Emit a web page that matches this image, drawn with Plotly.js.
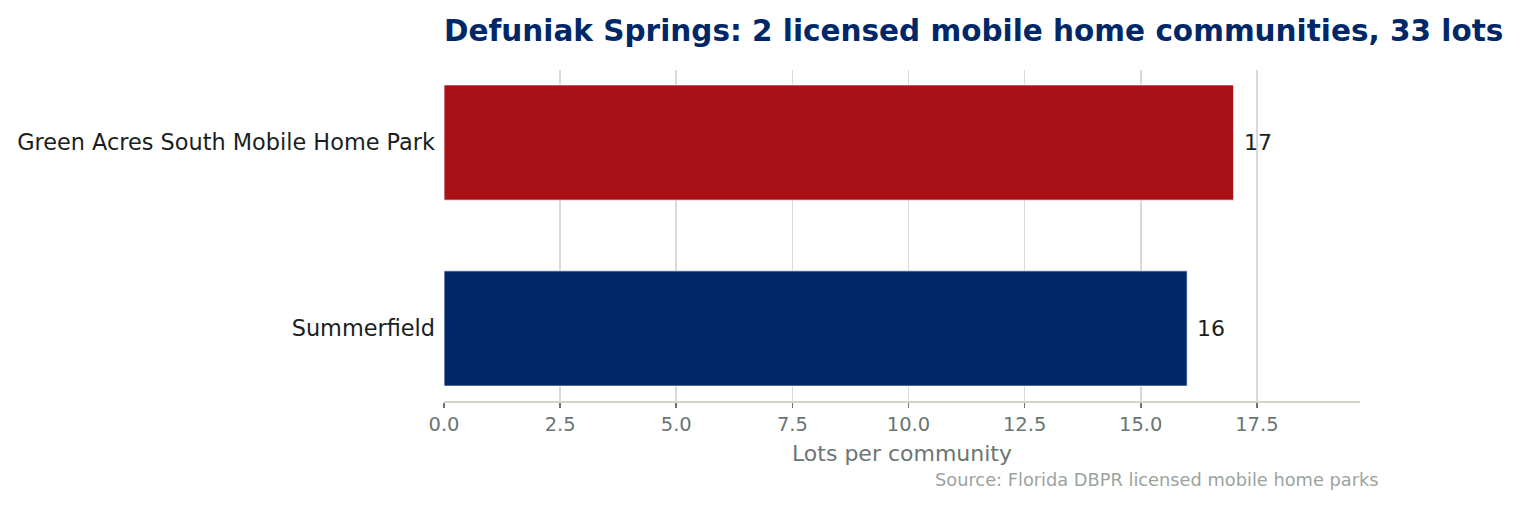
<!DOCTYPE html>
<html>
<head>
<meta charset="utf-8">
<script src="https://cdn.plot.ly/plotly-3.0.1.min.js"></script>
<style>
  html, body { margin: 0; padding: 0; background: #fff; }
  #chart { width: 1519px; height: 506px; }
</style>
</head>
<body>
<div id="chart"></div>
<script>
// data
var communities = ['Summerfield', 'Green Acres South Mobile Home Park'];
var lots = [16, 17];
var barColors = ['#002868', '#a81115'];
var xTicks = [0, 2.5, 5, 7.5, 10, 12.5, 15, 17.5];
var xTickLabels = ['0.0', '2.5', '5.0', '7.5', '10.0', '12.5', '15.0', '17.5'];

var font = 'DejaVu Sans, sans-serif';

var trace = {
    type: 'bar',
    orientation: 'h',
    x: lots,
    y: communities,
    width: 0.62,
    marker: { color: barColors, line: { color: '#ffffff', width: 0.8 } },
    hoverinfo: 'x+y'
};

// value labels just past the bar ends
var valueNotes = lots.map(function (v, i) {
    return {
        x: v, y: communities[i], xref: 'x', yref: 'y',
        text: String(v), showarrow: false,
        xanchor: 'left', xshift: 8,
        font: { family: font, size: 22, color: '#1a1f1e' }
    };
});

var layout = {
    width: 1519,
    height: 506,
    margin: { l: 444, r: 159, t: 70, b: 105 },
    paper_bgcolor: '#ffffff',
    plot_bgcolor: '#ffffff',
    showlegend: false,
    title: {
        text: '<b>Defuniak Springs: 2 licensed mobile home communities, 33 lots</b>',
        font: { family: font, size: 29.5, color: '#002868' },
        x: 444 / 1519, xref: 'container', xanchor: 'left',
        y: 1 - 31 / 506, yref: 'container', yanchor: 'middle'
    },
    xaxis: {
        range: [0, 19.72],
        tickvals: xTicks,
        ticktext: xTickLabels,
        showgrid: true,
        gridcolor: '#dcd9d3',
        gridwidth: 1.6,
        zeroline: false,
        showline: true,
        linecolor: '#d6d3c8',
        linewidth: 1.6,
        ticks: 'outside',
        ticklen: 5,
        tickwidth: 1.6,
        tickcolor: '#6b7573',
        tickfont: { family: font, size: 19.5, color: '#6b7573' },
        title: {
            text: 'Lots per community',
            font: { family: font, size: 22, color: '#6b7573' },
            standoff: 10
        },
        fixedrange: true
    },
    yaxis: {
        type: 'category',
        categoryorder: 'array',
        categoryarray: communities,
        range: [-0.39, 1.39],
        showgrid: false,
        zeroline: false,
        showline: false,
        ticks: '',
        ticklabelstandoff: 8,
        tickfont: { family: font, size: 22.4, color: '#1a1f1e' },
        fixedrange: true
    },
    annotations: valueNotes.concat([{
        text: 'Source: Florida DBPR licensed mobile home parks',
        xref: 'paper', yref: 'paper',
        x: (1381 - 444) / (1519 - 444 - 159), y: -(479 - 401) / (506 - 70 - 105),
        xanchor: 'right', yanchor: 'middle',
        showarrow: false,
        font: { family: font, size: 17.8, color: '#9aa3a0' }
    }])
};

Plotly.newPlot('chart', [trace], layout, { displayModeBar: false, staticPlot: true });
</script>
</body>
</html>
